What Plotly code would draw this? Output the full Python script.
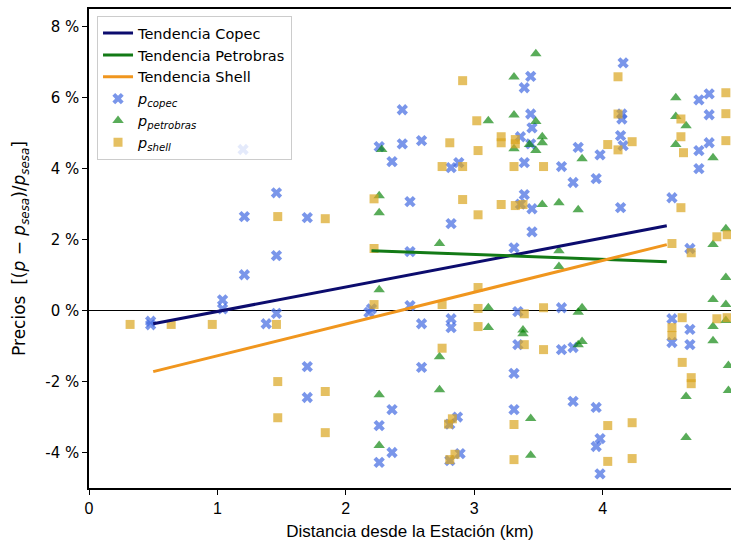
import plotly.graph_objects as go

# ---- data (percent) ----
copec_x = [0.48, 0.48, 1.04, 1.04, 1.20, 1.21, 1.21, 1.46, 1.46, 1.46, 1.38, 1.70, 1.70, 1.70,
           2.26, 2.18, 2.20, 2.36, 2.26, 2.36, 2.26, 2.44, 2.44, 2.36, 2.50, 2.50, 2.50, 2.59,
           2.59, 2.59, 2.82, 2.88, 2.82, 2.82, 2.82, 2.87, 2.81, 2.89, 2.81, 3.44, 3.39, 3.44,
           3.45, 3.36, 3.44, 3.39, 3.39, 3.36, 3.45, 3.45, 3.31, 3.34, 3.34, 3.31, 3.31, 3.68,
           3.68, 3.68, 3.77, 3.77, 3.77, 3.81, 3.98, 3.95, 3.95, 3.98, 3.95, 3.98, 4.16, 4.15,
           4.15, 4.14, 4.16, 4.14, 4.54, 4.54, 4.54, 4.68, 4.68, 4.68, 4.75, 4.83, 4.83, 4.75,
           4.83, 4.75]
copec_y = [-0.30, -0.40, 0.30, 0.05, 4.54, 2.65, 1.01, 3.32, 1.55, -0.08, -0.37, 2.62, -1.58, -2.45,
           4.62, -0.05, 0.05, -2.79, -3.24, -4.00, -4.28, 5.66, 4.70, 4.20, 3.07, 1.66, 0.14, 4.79,
           -0.37, -1.60, 4.03, 4.17, 2.45, -0.23, -0.48, -3.00, -3.20, -4.03, -4.23, 6.60, 6.28, 5.54,
           5.15, 4.90, 4.70, 4.17, 3.27, 3.00, 2.87, 2.22, 1.77, -0.03, -0.96, -1.77, -2.79, 4.06,
           0.08, -1.10, -1.04, 3.61, -2.56, 4.60, 4.39, 3.72, -2.73, -3.61, -3.83, -4.60, 6.98, 5.54,
           5.40, 4.93, 4.65, 2.90, 3.18, -0.23, -0.90, 1.75, -0.53, -0.96, 5.94, 6.11, 5.52, 4.51,
           4.73, 4.00]

petro_x = [2.26, 2.28, 2.26, 2.26, 2.26, 2.26, 2.73, 2.73, 2.73, 3.11, 3.11, 3.11, 3.48, 3.31,
           3.31, 3.48, 3.53, 3.53, 3.43, 3.31, 3.48, 3.53, 3.66, 3.81, 3.84, 3.66, 3.66, 3.84,
           3.81, 3.38, 3.38, 3.81, 3.84, 3.44, 3.44, 4.57, 4.57, 4.65, 4.57, 4.86, 4.86, 4.96,
           4.96, 4.86, 4.96, 4.86, 4.96, 4.86, 4.65, 4.65, 4.98, 4.98]
petro_y = [3.24, 4.54, 2.76, 0.59, -2.37, -3.80, 1.89, -1.30, -2.23, 5.35, 0.08, -0.48, 7.24, 6.58,
           5.51, 5.33, 4.90, 4.73, 4.68, 4.56, 4.51, 2.99, 3.04, 2.84, 4.28, 1.69, 1.24, 0.08,
           -0.05, -0.55, -0.65, -0.96, -0.87, -3.04, -4.08, 6.00, 5.47, 5.21, 4.68, 4.31, 1.86, 2.31,
           0.93, 0.31, 0.17, -0.45, -0.28, -0.85, -2.42, -3.58, -1.55, -2.25]

shell_x = [0.32, 0.64, 0.96, 1.46, 1.47, 1.47, 1.47, 1.84, 1.84, 1.84, 2.22, 2.22, 2.22, 2.75,
           2.75, 2.75, 2.81, 2.91, 2.91, 2.91, 2.83, 2.80, 2.85, 2.81, 3.02, 3.03, 3.03, 3.03,
           3.03, 3.03, 3.21, 3.21, 3.21, 3.32, 3.32, 3.31, 3.32, 3.38, 3.39, 3.39, 3.54, 3.54,
           3.54, 3.31, 3.31, 4.04, 4.04, 4.04, 4.12, 4.12, 4.12, 4.23, 4.23, 4.23, 4.61, 4.61,
           4.63, 4.61, 4.54, 4.69, 4.62, 4.54, 4.54, 4.62, 4.69, 4.69, 4.89, 4.97, 4.89, 4.97,
           4.96, 4.96, 4.96]
shell_y = [-0.39, -0.39, -0.39, -0.39, 2.65, -2.00, -3.02, 2.59, -2.28, -3.44, 3.15, 1.75, 0.17, 4.06,
           0.17, -1.06, 4.73, 6.48, 4.06, 3.13, -3.05, -3.20, -4.05, -4.20, 5.35, 4.51, 2.70, 0.65,
           0.06, -0.45, 4.90, 4.73, 2.99, 4.82, 4.70, 4.06, 2.96, 2.99, -0.09, -0.96, 4.06, 0.08,
           -1.10, -3.21, -4.20, 4.68, -3.24, -4.25, 6.59, 5.54, 4.53, 4.76, -3.16, -4.17, 5.40, 4.90,
           4.45, 2.90, 1.89, 1.63, -0.20, -0.48, -0.70, -1.46, -1.89, -2.06, 2.08, 2.14, -0.23, -0.20,
           6.14, 5.55, 4.79]

trend_copec_x = [0.5, 4.5]
trend_copec_y = [-0.37, 2.39]
trend_petro_x = [2.2, 4.5]
trend_petro_y = [1.69, 1.38]
trend_shell_x = [0.5, 4.5]
trend_shell_y = [-1.72, 1.86]

x_ticks = [0, 1, 2, 3, 4, 5]
y_ticks = [-4, -2, 0, 2, 4, 6, 8]

LEG_FONT = dict(family="DejaVu Sans", size=14.5, color="black")

fig = go.Figure()
fig.add_trace(go.Scatter(x=copec_x, y=copec_y, mode="markers", name="<i>p</i><sub><i>copec</i></sub>",
                         marker=dict(symbol="x", size=10, color="royalblue", opacity=0.7,
                                     line=dict(width=0)), legendrank=4))
fig.add_trace(go.Scatter(x=petro_x, y=petro_y, mode="markers", name="<i>p</i><sub><i>petrobras</i></sub>",
                         marker=dict(symbol="triangle-up", size=10, color="green", opacity=0.65,
                                     line=dict(width=0)), legendrank=5))
fig.add_trace(go.Scatter(x=shell_x, y=shell_y, mode="markers", name="<i>p</i><sub><i>shell</i></sub>",
                         marker=dict(symbol="square", size=9, color="goldenrod", opacity=0.7,
                                     line=dict(width=0)), legendrank=6))
fig.add_trace(go.Scatter(x=trend_copec_x, y=trend_copec_y, mode="lines", name="Tendencia Copec",
                         line=dict(color="#0c0c6e", width=3), legendrank=1))
fig.add_trace(go.Scatter(x=trend_petro_x, y=trend_petro_y, mode="lines", name="Tendencia Petrobras",
                         line=dict(color="#137a16", width=3), legendrank=2))
fig.add_trace(go.Scatter(x=trend_shell_x, y=trend_shell_y, mode="lines", name="Tendencia Shell",
                         line=dict(color="#f0961e", width=3), legendrank=3))

fig.update_layout(
    width=731, height=541,
    margin=dict(l=89, r=0, t=9, b=53),
    paper_bgcolor="white", plot_bgcolor="white",
    font=dict(family="DejaVu Sans", size=15, color="black"),
    showlegend=True,
    legend=dict(x=0.0125, y=0.985, xanchor="left", yanchor="top",
                bgcolor="rgba(255,255,255,0.8)", bordercolor="#cccccc", borderwidth=1,
                font=LEG_FONT),
    xaxis=dict(range=[0, 5], tickvals=x_ticks, ticktext=[str(v) for v in x_ticks],
               automargin=False,
               showgrid=False, zeroline=False, showline=True, linecolor="black", linewidth=1.5,
               mirror=True, ticks="outside", ticklen=5, tickcolor="black",
               tickfont=dict(family="Liberation Sans", size=16),
               title=dict(text="Distancia desde la Estación (km)",
                          font=dict(family="Liberation Sans", size=17))),
    yaxis=dict(range=[-5, 8.5], tickvals=y_ticks, ticktext=[f"{v} %" for v in y_ticks],
               automargin=False,
               showgrid=False, zeroline=True, zerolinecolor="black", zerolinewidth=1,
               showline=True, linecolor="black", linewidth=1.5, mirror=True,
               ticks="outside", ticklen=5, tickcolor="black",
               tickfont=dict(family="DejaVu Sans", size=15),
               title=dict(text="Precios  [(<i>p</i> − <i>p</i><sub><i>sesa</i></sub>)/<i>p</i><sub><i>sesa</i></sub>]",
                          font=dict(family="DejaVu Sans", size=17))),
)

fig.write_html("out.html", config={"displayModeBar": False},
               post_script="document.body.style.margin='0px';document.body.style.overflow='hidden';")
